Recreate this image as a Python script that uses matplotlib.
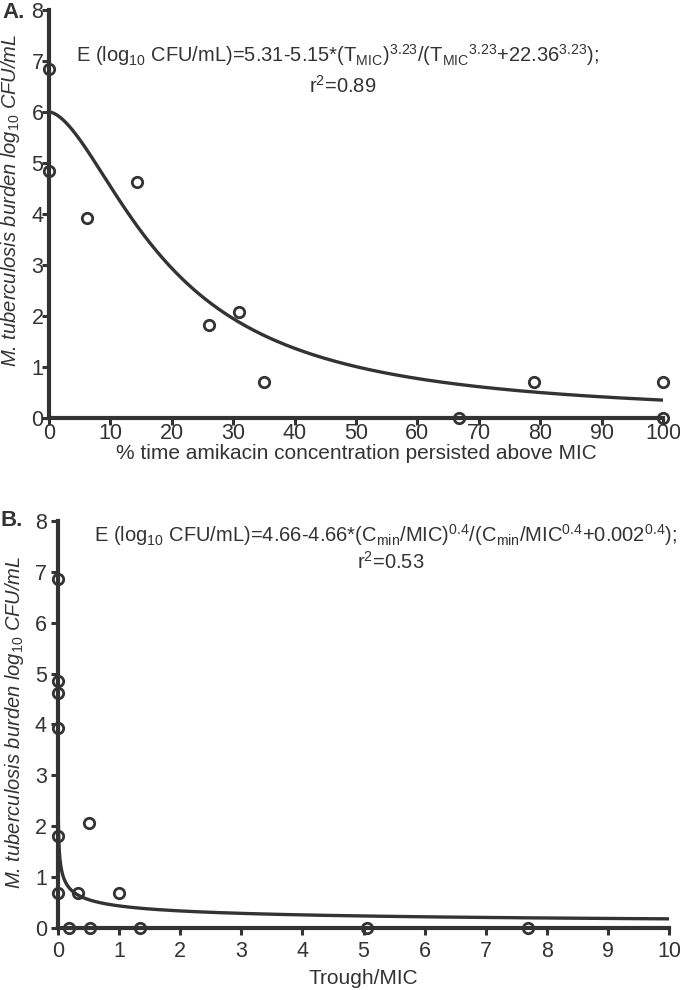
import numpy as np
import matplotlib
matplotlib.use("Agg")
import matplotlib.pyplot as plt

plt.rcParams['font.family'] = ['Liberation Sans', 'DejaVu Sans']
plt.rcParams['mathtext.fontset'] = 'custom'
plt.rcParams['mathtext.rm'] = 'Liberation Sans'
plt.rcParams['mathtext.it'] = 'Liberation Sans:italic'
plt.rcParams['mathtext.bf'] = 'Liberation Sans:bold'

INK = '#333333'

# panel A: % time above MIC vs burden
time_above_mic = [0, 0, 6.2, 14.4, 26, 31, 35, 66.7, 79, 100, 100]
burden_a = [6.85, 4.85, 3.93, 4.62, 1.82, 2.07, 0.70, 0.0, 0.70, 0.70, 0.0]
# fitted sigmoid drawn in panel A (as it appears on the figure)
fit_a = dict(e0=6.0, emax=6.0, ec50=19.5, hill=1.7)

# panel B: trough/MIC vs burden
trough_mic = [0, 0, 0, 0, 0, 0, 0.18, 0.32, 0.52, 0.50, 1.0, 1.35, 5.05, 7.7]
burden_b = [6.85, 4.85, 4.62, 3.93, 1.82, 0.70, 0.0, 0.70, 0.0, 2.07, 0.70, 0.0, 0.0, 0.0]
fit_b = dict(e0=4.66, emax=4.66, ec50=0.0035, hill=0.4)

eq_a = ("E (log$_{10}$ CFU/mL)=5.31-5.15*(T$_{\\mathrm{MIC}}$)$^{3.23}$"
        "/(T$_{\\mathrm{MIC}}$$^{3.23}$+22.36$^{3.23}$);")
eq_b = ("E (log$_{10}$ CFU/mL)=4.66-4.66*(C$_{\\mathrm{min}}$/MIC)$^{0.4}$"
        "/(C$_{\\mathrm{min}}$/MIC$^{0.4}$+0.002$^{0.4}$);")
ylab = "M. tuberculosis burden log$_{\\mathit{10}}$ CFU/mL"


def hill(x, e0, emax, ec50, hill):
    x = np.asarray(x, dtype=float)
    return e0 - emax * x**hill / (x**hill + ec50**hill)


def style_axes(ax, xmax, xstep, xpad, ypad):
    ax.set_xlim(0, xmax)
    ax.set_ylim(0, 8)
    ax.set_xticks(np.arange(0, xmax + xstep / 2, xstep))
    ax.set_yticks(range(0, 9))
    for s in ('top', 'right'):
        ax.spines[s].set_visible(False)
    for s in ('left', 'bottom'):
        ax.spines[s].set_linewidth(3)
        ax.spines[s].set_color(INK)
    ax.tick_params(length=5, width=2.2, color=INK, labelcolor=INK, labelsize=15.5)
    ax.tick_params(axis='x', pad=xpad)
    ax.tick_params(axis='y', pad=ypad)


fig = plt.figure(figsize=(6.8, 9.9), dpi=100)

# ---- A ----
axA = fig.add_axes([49 / 680, 1 - 418 / 990, 614 / 680, 408 / 990])
style_axes(axA, 100, 10, -1.5, -1)
tA = np.linspace(0, 100, 400)
axA.plot(tA, hill(tA, **fit_a), color=INK, lw=2.4, zorder=3)
axA.plot(time_above_mic, burden_a, 'o', ms=7.5, mfc='none', mec=INK, mew=2,
         clip_on=False, zorder=4)
axA.set_xlabel("% time amikacin concentration persisted above MIC",
               fontsize=15, color=INK, labelpad=0)
axA.set_ylabel(ylab, fontsize=14.5, style='italic', color=INK)
axA.yaxis.set_label_coords(-0.044, 0.534)
fig.text(338 / 680, 1 - 55 / 990, eq_a, ha='center', va='center', fontsize=14.5, color=INK)
fig.text(343 / 680, 1 - 86 / 990, "r$^2$=0.89", ha='center', va='center', fontsize=14.5, color=INK)
fig.text(2 / 680, 1 - 13 / 990, "A.", ha='left', va='center', fontsize=16,
         fontweight='bold', color=INK)

# ---- B ----
axB = fig.add_axes([58 / 680, 1 - 928.3 / 990, 611 / 680, 407.6 / 990])
style_axes(axB, 10, 1, 4, 3)
cB = np.concatenate([np.logspace(-9, -1, 300), np.linspace(0.1, 10, 400)])
axB.plot(cB, hill(cB, **fit_b), color=INK, lw=2.4, zorder=3)
axB.plot(trough_mic, burden_b, 'o', ms=7.5, mfc='none', mec=INK, mew=2,
         clip_on=False, zorder=4)
axB.set_xlabel("Trough/MIC", fontsize=15, color=INK, labelpad=5)
axB.set_ylabel(ylab, fontsize=14.5, style='italic', color=INK)
axB.yaxis.set_label_coords(-0.052, 0.506)
fig.text(385 / 680, 1 - 535 / 990, eq_b, ha='center', va='center', fontsize=14.5, color=INK)
fig.text(391 / 680, 1 - 562 / 990, "r$^2$=0.53", ha='center', va='center', fontsize=14.5, color=INK)
fig.text(0 / 680, 1 - 521 / 990, "B.", ha='left', va='center', fontsize=16,
         fontweight='bold', color=INK)

fig.savefig("out.png", dpi=100)
